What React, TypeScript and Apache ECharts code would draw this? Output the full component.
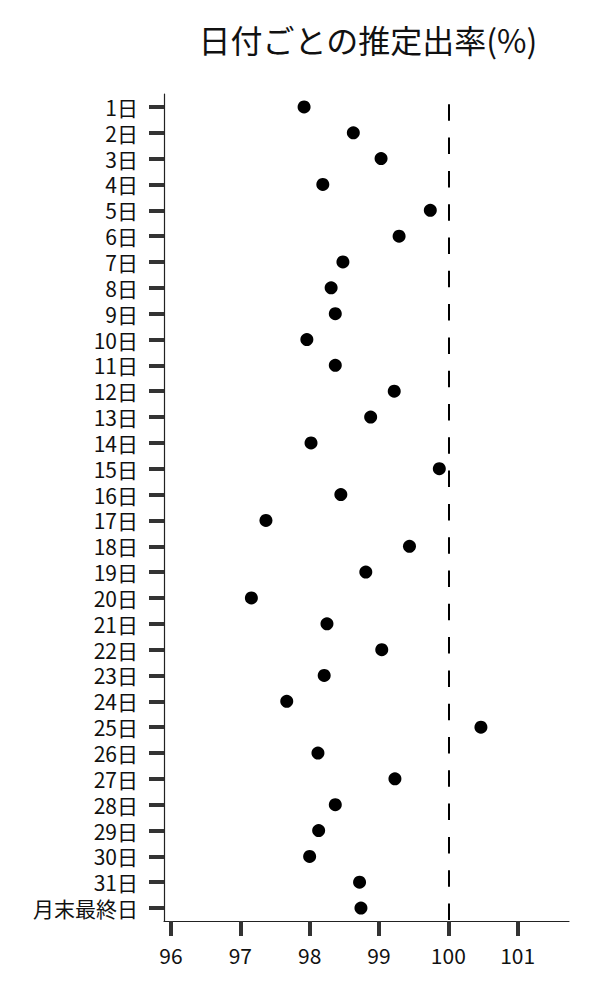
import { useEffect, useRef } from "react";
import * as echarts from "echarts";

const days = [
  "1日", "2日", "3日", "4日", "5日", "6日", "7日", "8日", "9日", "10日",
  "11日", "12日", "13日", "14日", "15日", "16日", "17日", "18日", "19日", "20日",
  "21日", "22日", "23日", "24日", "25日", "26日", "27日", "28日", "29日", "30日",
  "31日", "月末最終日",
];

const rates = [
  97.92, 98.63, 99.03, 98.19, 99.74, 99.29, 98.48, 98.31, 98.37, 97.96,
  98.37, 99.22, 98.88, 98.02, 99.87, 98.45, 97.37, 99.44, 98.81, 97.16,
  98.25, 99.04, 98.21, 97.67, 100.47, 98.12, 99.23, 98.37, 98.13, 98.0,
  98.72, 98.74,
];

const xTicks = [96, 97, 98, 99, 100, 101];
const reference = 100;

const FONT = "Noto Sans CJK JP";

export default function App() {
  const chartRef = useRef<HTMLDivElement>(null);

  useEffect(() => {
    if (!chartRef.current) return;
    document.body.style.margin = "0";
    const chart = echarts.init(chartRef.current, null, { renderer: "svg" });

    const option: echarts.EChartsOption = {
      animation: false,
      backgroundColor: "#fff",
      title: {
        text: "日付ごとの推定出率(%)",
        left: 363,
        top: 18,
        textAlign: "center",
        textStyle: {
          fontFamily: FONT,
          fontSize: 32,
          fontWeight: "normal",
          color: "#111",
        },
      },
      grid: {
        left: 164,
        top: 94,
        width: 405,
        height: 827,
        containLabel: false,
      },
      xAxis: {
        type: "value",
        min: 95.9,
        max: 101.74,
        splitLine: { show: false },
        axisLine: { show: true, lineStyle: { color: "#222", width: 1.2 } },
        axisTick: {
          show: true,
          length: 15,
          customValues: xTicks,
          lineStyle: { color: "#333", width: 4 },
        },
        axisLabel: {
          customValues: xTicks,
          margin: 23,
          fontFamily: FONT,
          fontSize: 21,
          color: "#111",
        },
      },
      yAxis: {
        type: "category",
        data: days,
        inverse: true,
        boundaryGap: true,
        axisLine: { show: true, lineStyle: { color: "#222", width: 1.2 } },
        axisTick: {
          show: true,
          alignWithLabel: true,
          length: 15,
          lineStyle: { color: "#333", width: 4 },
        },
        axisLabel: {
          margin: 26,
          fontFamily: FONT,
          fontSize: 21,
          lineHeight: 22,
          color: "#111",
          interval: 0,
        },
        splitLine: { show: false },
      },
      series: [
        {
          type: "scatter",
          data: rates.map((v, i) => [v, days[i]]),
          symbol: "circle",
          symbolSize: 13,
          itemStyle: { color: "#000", opacity: 1 },
          markLine: {
            silent: true,
            symbol: "none",
            label: { show: false },
            lineStyle: {
              color: "#000",
              width: 2,
              type: [16.5, 16.8],
              dashOffset: 23.3,
            },
            data: [{ xAxis: reference }],
          },
        },
      ],
    };

    chart.setOption(option);
    return () => chart.dispose();
  }, []);

  return <div ref={chartRef} style={{ width: 600, height: 1000 }} />;
}
